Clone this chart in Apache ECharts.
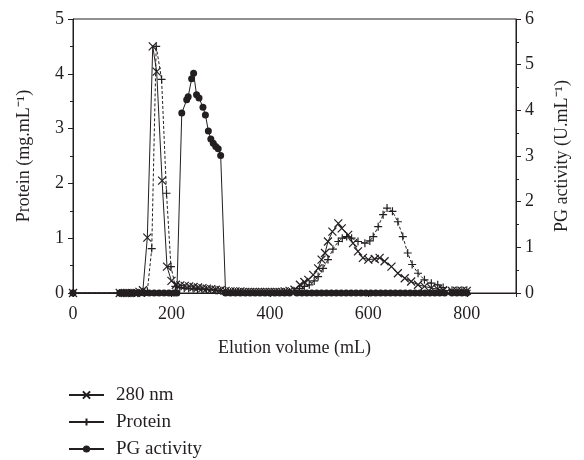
<!DOCTYPE html>
<html>
<head>
<meta charset="utf-8">
<script src="https://cdn.jsdelivr.net/npm/echarts@6/dist/echarts.min.js"></script>
<style>html,body{margin:0;padding:0;background:#fff}#c{width:584px;height:460px}</style>
</head>
<body>
<div id="c"></div>
<script>
// Elution volume (mL), value pairs
var xTicks = [0, 200, 400, 600, 800];
var leftTicks = [0, 1, 2, 3, 4, 5];
var rightTicks = [0, 1, 2, 3, 4, 5, 6];

var abs280 = [
  [0,0],[95,0],[105,0],[115,0],[125,0],[135,0.02],[142,0.05],[151,1.01],[162,4.5],[170,4.04],
  [181,2.05],[191,0.48],[200,0.22],[209,0.15],[218,0.14],[227,0.13],[236,0.12],[245,0.11],
  [254,0.1],[263,0.09],[272,0.08],[281,0.07],[290,0.06],[300,0.05],[310,0.04],[320,0.03],
  [330,0.03],[340,0.03],[350,0.02],[360,0.02],[370,0.02],[380,0.02],[390,0.02],[400,0.02],
  [410,0.02],[420,0.02],[430,0.03],[440,0.04],[450,0.06],[461,0.15],[470,0.2],[478,0.24],
  [488,0.33],[498,0.45],[505,0.61],[512,0.73],[518,0.94],[527,1.12],[539,1.27],[546,1.18],
  [559,1.06],[569,0.91],[579,0.76],[589,0.64],[600,0.61],[613,0.62],[623,0.64],[633,0.58],
  [647,0.48],[660,0.36],[674,0.27],[687,0.21],[701,0.15],[714,0.12],[728,0.09],[741,0.07],
  [752,0.05],[770,0.04],[780,0.04],[790,0.04],[800,0.04]
];

var protein = [
  [0,0],[95,0],[105,0],[115,0],[125,0],[135,0],[145,0],[151,0.03],[160,0.81],[169,4.5],
  [180,3.9],[190,1.82],[199,0.48],[208,0.12],[217,0.1],[226,0.09],[235,0.08],[244,0.08],
  [253,0.07],[262,0.07],[271,0.06],[280,0.06],[290,0.05],[300,0.04],[310,0.02],[320,0.02],
  [330,0.02],[340,0.02],[350,0.02],[360,0.02],[370,0.02],[380,0.02],[390,0.02],[400,0.02],
  [410,0.02],[420,0.02],[430,0.02],[440,0.02],[450,0.03],[460,0.08],[470,0.12],[480,0.15],
  [490,0.22],[498,0.3],[508,0.45],[518,0.61],[528,0.8],[539,0.94],[547,1.0],[556,1.03],
  [566,1.0],[579,0.94],[593,0.91],[603,0.95],[610,1.03],[620,1.21],[630,1.43],[638,1.55],
  [649,1.49],[660,1.3],[670,1.03],[680,0.73],[689,0.52],[701,0.36],[714,0.24],[728,0.18],
  [741,0.15],[752,0.1],[770,0.05],[780,0.05],[790,0.05],[800,0.05]
];

var pgActivity = [
  [0,0],[95,0],[105,0],[115,0],[125,0],[135,0],[145,0],[155,0],[165,0],[175,0],[185,0],
  [195,0],[205,0],[211,0],[221,3.94],[231,4.23],[234,4.3],[241,4.69],[245,4.81],[251,4.34],
  [256,4.27],[264,4.07],[269,3.9],[275,3.55],[280,3.37],[285,3.28],[290,3.21],[295,3.16],
  [300,3.01],[310,0],[320,0],[330,0],[340,0],[350,0],[360,0],[370,0],[380,0],[390,0],
  [400,0],[410,0],[420,0],[430,0],[440,0],[455,0],[465,0],[475,0],[485,0],[495,0],[505,0],
  [515,0],[525,0],[535,0],[545,0],[555,0],[565,0],[575,0],[585,0],[595,0],[605,0],[615,0],
  [625,0],[635,0],[645,0],[655,0],[665,0],[675,0],[685,0],[695,0],[705,0],[715,0],[725,0],
  [735,0],[745,0],[755,0],[770,0],[780,0],[790,0],[800,0]
];

var FONT = 'Liberation Serif';
var INK = '#231f20';
var chart = echarts.init(document.getElementById('c'), null, {renderer: 'canvas'});
var symX = 'path://M0,0L10,10M0,10L10,0';
var symPlus = 'path://M5,0L5,10M0,5L10,5';

chart.setOption({
  animation: false,
  backgroundColor: '#fff',
  grid: {left: 73, right: 68, top: 19, bottom: 167, show: true, borderColor: INK, borderWidth: 1, backgroundColor: 'transparent'},
  legend: {
    orient: 'vertical', left: 68, top: 385, height: 120, itemWidth: 35, itemHeight: 9, itemGap: 7,
    padding: 0,
    textStyle: {fontFamily: FONT, fontSize: 19, lineHeight: 20, color: INK, padding: [0,0,0,7]},
    data: [
      {name: '280 nm'},
      {name: 'Protein', lineStyle: {type: 'solid'}},
      {name: 'PG activity'}
    ]
  },
  xAxis: {
    type: 'value', min: 0, max: 900, interval: 200,
    name: 'Elution volume (mL)', nameLocation: 'middle', nameGap: 46,
    nameTextStyle: {fontFamily: FONT, fontSize: 18, color: INK},
    axisLine: {show: true, lineStyle: {color: INK, width: 1}},
    axisTick: {show: true, inside: false, length: 4, lineStyle: {color: INK}},
    axisLabel: {fontFamily: FONT, fontSize: 18, color: INK, margin: 12,
      formatter: function (v) { return xTicks.indexOf(v) >= 0 ? String(v) : ''; }},
    splitLine: {show: false}
  },
  yAxis: [
    {
      type: 'value', min: 0, max: 5, interval: 1, position: 'left',
      name: 'Protein (mg.mL\u207B\u00B9)', nameLocation: 'middle', nameGap: 40,
      nameTextStyle: {fontFamily: FONT, fontSize: 18, color: INK},
      axisLine: {show: true, lineStyle: {color: INK, width: 1}},
      axisTick: {show: true, length: 5, lineStyle: {color: INK}},
      minorTick: {show: true, splitNumber: 2, length: 3, lineStyle: {color: INK}},
      axisLabel: {fontFamily: FONT, fontSize: 18, color: INK, margin: 9,
        formatter: function (v) { return leftTicks.indexOf(v) >= 0 ? String(v) : ''; }},
      splitLine: {show: false}
    },
    {
      type: 'value', min: 0, max: 6, interval: 1, position: 'right',
      name: 'PG activity (U.mL\u207B\u00B9)', nameLocation: 'middle', nameGap: 37,
      nameTextStyle: {fontFamily: FONT, fontSize: 18, color: INK},
      axisLine: {show: true, lineStyle: {color: INK, width: 1}},
      axisTick: {show: true, length: 5, lineStyle: {color: INK}},
      minorTick: {show: true, splitNumber: 2, length: 3, lineStyle: {color: INK}},
      axisLabel: {fontFamily: FONT, fontSize: 18, color: INK, margin: 9,
        formatter: function (v) { return rightTicks.indexOf(v) >= 0 ? String(v) : ''; }},
      splitLine: {show: false}
    }
  ],
  series: [
    {
      name: '280 nm', type: 'line', yAxisIndex: 0, data: abs280,
      symbol: symX, symbolSize: 8, showSymbol: true,
      lineStyle: {color: INK, width: 1, type: 'solid'},
      itemStyle: {color: INK, borderColor: INK, borderWidth: 1.2}
    },
    {
      name: 'Protein', type: 'line', yAxisIndex: 0, data: protein,
      symbol: symPlus, symbolSize: 8, showSymbol: true,
      lineStyle: {color: INK, width: 1, type: [3, 2]},
      itemStyle: {color: INK, borderColor: INK, borderWidth: 1.2}
    },
    {
      name: 'PG activity', type: 'line', yAxisIndex: 1, data: pgActivity,
      symbol: 'circle', symbolSize: 7, showSymbol: true,
      lineStyle: {color: INK, width: 1, type: 'solid'},
      itemStyle: {color: INK, borderColor: INK, borderWidth: 0}
    }
  ]
});
</script>
</body>
</html>
